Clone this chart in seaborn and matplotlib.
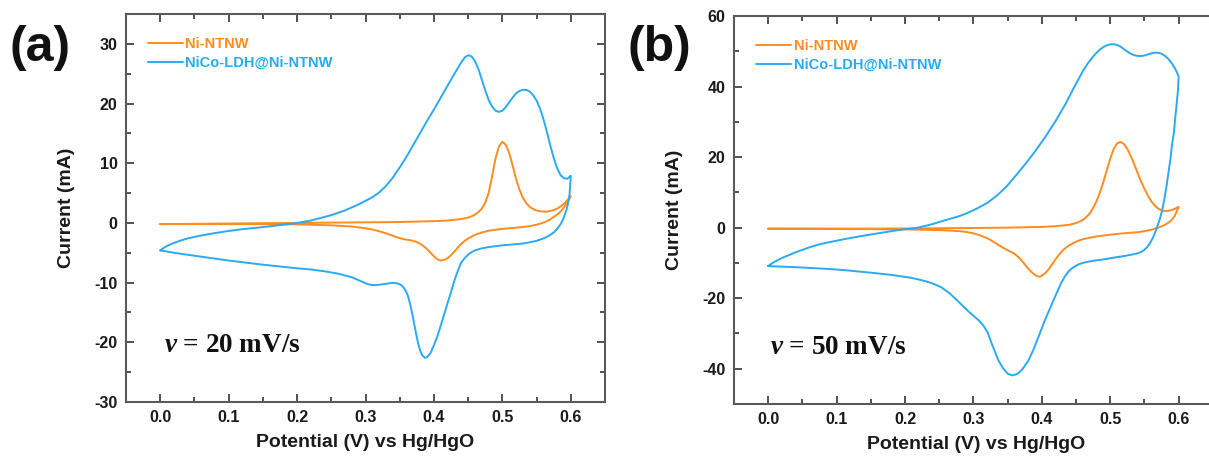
import matplotlib
matplotlib.use("Agg")
import matplotlib.pyplot as plt
import seaborn as sns
import pandas as pd
from matplotlib.ticker import MultipleLocator

# ---------------- data: panel (a), 20 mV/s ----------------
a_ni_fwd_v = [0.00, 0.05, 0.10, 0.15, 0.20, 0.25, 0.30, 0.35, 0.40, 0.42, 0.44, 0.45, 0.455, 0.46,
              0.465, 0.47, 0.475, 0.48, 0.485, 0.49, 0.495, 0.50, 0.505, 0.51, 0.515, 0.52, 0.525,
              0.53, 0.535, 0.54, 0.545, 0.55, 0.555, 0.56, 0.565, 0.57, 0.575, 0.58, 0.585, 0.59,
              0.595, 0.60]
a_ni_fwd_i = [-0.2, -0.15, -0.1, -0.05, 0.0, 0.05, 0.1, 0.15, 0.3, 0.4, 0.65, 0.9, 1.1, 1.4,
              1.8, 2.4, 3.4, 5.0, 7.8, 10.8, 12.8, 13.6, 13.1, 11.7, 9.6, 7.4, 5.6,
              4.2, 3.3, 2.7, 2.3, 2.1, 1.95, 1.9, 1.9, 2.0, 2.15, 2.4, 2.75, 3.2,
              3.8, 4.5]
a_ni_rev_v = [0.60, 0.595, 0.59, 0.585, 0.58, 0.575, 0.57, 0.565, 0.56, 0.55, 0.54, 0.52, 0.50,
              0.48, 0.47, 0.46, 0.455, 0.45, 0.445, 0.44, 0.435, 0.43, 0.425, 0.42, 0.415, 0.41,
              0.405, 0.40, 0.395, 0.39, 0.385, 0.38, 0.375, 0.37, 0.365, 0.36, 0.355, 0.35, 0.345,
              0.34, 0.33, 0.32, 0.31, 0.30, 0.29, 0.28, 0.25, 0.20, 0.15, 0.10, 0.05, 0.00]
a_ni_rev_i = [4.5, 3.4, 2.6, 1.9, 1.4, 1.0, 0.6, 0.3, 0.05, -0.3, -0.55, -0.8, -1.0,
              -1.3, -1.6, -2.0, -2.3, -2.6, -3.0, -3.5, -4.1, -4.8, -5.4, -5.9, -6.2, -6.3,
              -6.1, -5.6, -5.0, -4.4, -3.9, -3.5, -3.2, -3.0, -2.9, -2.8, -2.7, -2.55, -2.35,
              -2.15, -1.75, -1.4, -1.1, -0.9, -0.75, -0.6, -0.4, -0.25, -0.2, -0.2, -0.2, -0.2]

a_co_fwd_v = [0.00, 0.005, 0.01, 0.02, 0.03, 0.04, 0.06, 0.08, 0.10, 0.12, 0.15, 0.18, 0.20, 0.22,
              0.24, 0.25, 0.26, 0.27, 0.28, 0.29, 0.30, 0.31, 0.32, 0.33, 0.34, 0.35, 0.36, 0.37,
              0.38, 0.39, 0.40, 0.41, 0.42, 0.43, 0.44, 0.445, 0.45, 0.455, 0.46, 0.465, 0.47,
              0.475, 0.48, 0.485, 0.49, 0.495, 0.50, 0.505, 0.51, 0.515, 0.52, 0.525, 0.53, 0.535,
              0.54, 0.545, 0.55, 0.555, 0.56, 0.565, 0.57, 0.575, 0.58, 0.585, 0.59, 0.595, 0.60]
a_co_fwd_i = [-4.6, -4.2, -3.85, -3.35, -2.95, -2.6, -2.1, -1.7, -1.35, -1.05, -0.7, -0.3, 0.0, 0.4,
              1.0, 1.3, 1.7, 2.1, 2.6, 3.1, 3.7, 4.3, 5.1, 6.2, 7.6, 9.3, 11.1, 13.1,
              15.1, 17.1, 19.0, 21.0, 23.0, 25.0, 26.9, 27.7, 28.1, 27.9, 27.1, 25.8, 24.0,
              22.2, 20.6, 19.5, 18.8, 18.6, 18.8, 19.4, 20.2, 21.0, 21.7, 22.1, 22.3, 22.3,
              22.0, 21.4, 20.5, 19.2, 17.4, 15.3, 13.0, 10.9, 9.2, 8.0, 7.5, 7.4, 7.9]
a_co_rev_v = [0.60, 0.599, 0.598, 0.596, 0.594, 0.591, 0.588, 0.584, 0.58, 0.575, 0.57, 0.565, 0.56,
              0.55, 0.54, 0.53, 0.516, 0.50, 0.49, 0.48, 0.47, 0.46, 0.455, 0.45, 0.445, 0.44,
              0.435, 0.43, 0.425, 0.42, 0.415, 0.41, 0.405, 0.40, 0.395, 0.39, 0.387, 0.383, 0.38,
              0.377, 0.374, 0.371, 0.368, 0.365, 0.362, 0.358, 0.354, 0.35, 0.345, 0.34, 0.335,
              0.33, 0.32, 0.315, 0.31, 0.305, 0.30, 0.295, 0.29, 0.285, 0.28, 0.27, 0.26, 0.24,
              0.22, 0.20, 0.15, 0.10, 0.05, 0.02, 0.00]
a_co_rev_i = [7.9, 6.0, 4.6, 3.3, 2.3, 1.3, 0.4, -0.4, -1.0, -1.6, -2.0, -2.35, -2.6,
              -3.0, -3.25, -3.45, -3.6, -3.75, -3.9, -4.05, -4.25, -4.6, -4.9, -5.3, -5.9, -6.6,
              -8.0, -9.6, -11.6, -13.4, -15.3, -17.2, -19.0, -20.5, -21.8, -22.5, -22.6, -22.2, -21.4,
              -20.2, -18.6, -16.8, -15.0, -13.5, -12.2, -11.2, -10.6, -10.25, -10.1, -10.05, -10.1,
              -10.2, -10.35, -10.4, -10.4, -10.3, -10.1, -9.85, -9.6, -9.35, -9.1, -8.8, -8.5, -8.1,
              -7.8, -7.6, -7.0, -6.3, -5.5, -5.0, -4.6]

# ---------------- data: panel (b), 50 mV/s ----------------
b_ni_fwd_v = [0.00, 0.10, 0.20, 0.30, 0.35, 0.40, 0.42, 0.44, 0.45, 0.455, 0.46, 0.465, 0.47, 0.475,
              0.48, 0.485, 0.49, 0.495, 0.50, 0.505, 0.51, 0.515, 0.52, 0.525, 0.53, 0.535, 0.54,
              0.545, 0.55, 0.555, 0.56, 0.565, 0.57, 0.575, 0.58, 0.585, 0.59, 0.595, 0.60]
b_ni_fwd_i = [-0.3, -0.3, -0.25, -0.1, 0.0, 0.2, 0.4, 0.8, 1.3, 1.7, 2.2, 3.0, 4.0, 5.6,
              7.5, 10.0, 13.0, 16.3, 19.5, 22.3, 23.9, 24.3, 23.7, 22.3, 20.3, 18.0, 15.5,
              13.1, 11.0, 9.1, 7.5, 6.3, 5.4, 4.9, 4.7, 4.75, 5.0, 5.4, 5.9]
b_ni_rev_v = [0.60, 0.597, 0.594, 0.59, 0.585, 0.58, 0.575, 0.57, 0.565, 0.56, 0.55, 0.54, 0.52,
              0.50, 0.48, 0.47, 0.46, 0.455, 0.45, 0.445, 0.44, 0.435, 0.43, 0.425, 0.42, 0.415,
              0.41, 0.405, 0.40, 0.397, 0.393, 0.39, 0.385, 0.38, 0.375, 0.37, 0.365, 0.36, 0.355,
              0.35, 0.345, 0.34, 0.335, 0.33, 0.325, 0.32, 0.31, 0.30, 0.29, 0.28, 0.25, 0.20,
              0.10, 0.00]
b_ni_rev_i = [5.9, 4.5, 3.3, 2.2, 1.4, 0.8, 0.35, 0.0, -0.3, -0.6, -1.0, -1.3, -1.6,
              -2.0, -2.5, -2.85, -3.3, -3.6, -4.0, -4.5, -5.0, -5.7, -6.6, -7.7, -9.0, -10.4,
              -11.8, -12.9, -13.6, -13.9, -13.8, -13.4, -12.6, -11.6, -10.4, -9.2, -8.2, -7.4, -6.9,
              -6.4, -5.9, -5.3, -4.7, -4.1, -3.5, -3.0, -2.2, -1.6, -1.25, -1.0, -0.7, -0.5,
              -0.35, -0.3]

b_co_fwd_v = [0.00, 0.005, 0.01, 0.02, 0.03, 0.04, 0.05, 0.06, 0.07, 0.08, 0.095, 0.11, 0.13, 0.151,
              0.17, 0.19, 0.21, 0.219, 0.23, 0.24, 0.25, 0.264, 0.28, 0.293, 0.305, 0.321, 0.335,
              0.349, 0.363, 0.377, 0.39, 0.405, 0.42, 0.435, 0.445, 0.455, 0.46, 0.468, 0.475,
              0.48, 0.485, 0.49, 0.495, 0.50, 0.505, 0.51, 0.515, 0.52, 0.525, 0.53, 0.535, 0.54,
              0.545, 0.55, 0.555, 0.56, 0.565, 0.57, 0.575, 0.58, 0.585, 0.59, 0.595, 0.598, 0.60]
b_co_fwd_i = [-10.9, -10.2, -9.6, -8.6, -7.8, -7.0, -6.3, -5.6, -5.0, -4.5, -3.9, -3.3, -2.6, -1.9,
              -1.3, -0.7, -0.2, 0.0, 0.5, 1.0, 1.6, 2.4, 3.3, 4.3, 5.4, 7.1, 9.2,
              11.8, 15.0, 18.3, 21.6, 25.7, 30.2, 35.2, 39.0, 42.6, 44.4, 46.8, 48.5,
              49.6, 50.5, 51.2, 51.7, 51.95, 52.0, 51.8, 51.3, 50.6, 49.9, 49.3, 48.9, 48.7,
              48.65, 48.8, 49.1, 49.4, 49.6, 49.6, 49.3, 48.7, 47.8, 46.6, 45.0, 43.8, 42.8]
b_co_rev_v = [0.60, 0.599, 0.597, 0.595, 0.593, 0.59, 0.588, 0.585, 0.582, 0.579, 0.576, 0.573, 0.57,
              0.566, 0.562, 0.558, 0.554, 0.55, 0.545, 0.54, 0.53, 0.519, 0.505, 0.49, 0.475, 0.462,
              0.455, 0.45, 0.445, 0.44, 0.434, 0.428, 0.422, 0.414, 0.405, 0.397, 0.388, 0.38,
              0.371, 0.364, 0.357, 0.35, 0.343, 0.337, 0.332, 0.326, 0.321, 0.315, 0.309, 0.30,
              0.293, 0.285, 0.276, 0.265, 0.253, 0.24, 0.23, 0.22, 0.208, 0.18, 0.151, 0.12,
              0.095, 0.05, 0.00]
b_co_rev_i = [42.8, 39.0, 35.0, 31.0, 27.0, 23.0, 19.5, 15.5, 11.5, 8.0, 5.0, 2.8, 1.0,
              -1.2, -3.0, -4.4, -5.5, -6.3, -6.9, -7.3, -7.7, -8.1, -8.5, -9.0, -9.4, -9.9,
              -10.3, -10.8, -11.4, -12.2, -13.7, -15.8, -18.4, -22.0, -26.0, -30.0, -34.5, -37.8,
              -40.3, -41.5, -41.9, -41.4, -39.8, -37.8, -35.5, -32.5, -29.8, -27.9, -26.5, -25.0,
              -23.8, -22.3, -20.6, -18.6, -16.9, -15.8, -15.2, -14.7, -14.2, -13.4, -12.8, -12.2,
              -11.8, -11.3, -10.9]

series_labels = ["Ni-NTNW", "NiCo-LDH@Ni-NTNW"]
panel_labels = ["(a)", "(b)"]
rate_texts = ["20 mV/s", "50 mV/s"]
x_ticks = [0.0, 0.1, 0.2, 0.3, 0.4, 0.5, 0.6]
a_y_ticks = [-30, -20, -10, 0, 10, 20, 30]
b_y_ticks = [-40, -20, 0, 20, 40, 60]

ORANGE = "#FF8C1E"
BLUE = "#2AAAF2"

sns.set_style("ticks")
plt.rcParams["font.family"] = ["Liberation Sans", "DejaVu Sans"]
plt.rcParams["font.weight"] = "bold"
plt.rcParams["axes.labelweight"] = "bold"
plt.rcParams["mathtext.fontset"] = "custom"
plt.rcParams["mathtext.it"] = "Liberation Serif:italic:bold"
plt.rcParams["mathtext.rm"] = "Liberation Serif:bold"

fig = plt.figure(figsize=(12.09, 4.62), dpi=100)
ax_a = fig.add_axes([126 / 1209, 60 / 462, 479 / 1209, 388 / 462])
ax_b = fig.add_axes([734 / 1209, 58 / 462, 484 / 1209, 388 / 462])


def loop(fv, fi, rv, ri):
    return pd.DataFrame({"V": fv + rv, "I": fi + ri})


panels = [
    (ax_a, loop(a_ni_fwd_v, a_ni_fwd_i, a_ni_rev_v, a_ni_rev_i),
     loop(a_co_fwd_v, a_co_fwd_i, a_co_rev_v, a_co_rev_i), (-30, 35), a_y_ticks, 5, 0.08),
    (ax_b, loop(b_ni_fwd_v, b_ni_fwd_i, b_ni_rev_v, b_ni_rev_i),
     loop(b_co_fwd_v, b_co_fwd_i, b_co_rev_v, b_co_rev_i), (-50, 60), b_y_ticks, 10, 0.075),
]

for k, (ax, d_ni, d_co, ylim, yt, ymin, tx) in enumerate(panels):
    sns.lineplot(data=d_ni, x="V", y="I", sort=False, estimator=None, color=ORANGE,
                 lw=1.4, ax=ax, label=series_labels[0])
    sns.lineplot(data=d_co, x="V", y="I", sort=False, estimator=None, color=BLUE,
                 lw=1.4, ax=ax, label=series_labels[1])
    ax.set_xlim(-0.05, 0.65 if k == 0 else 0.6575)
    ax.set_ylim(*ylim)
    ax.set_xticks(x_ticks)
    ax.set_xticklabels([f"{t:.1f}" for t in x_ticks])
    ax.set_yticks(yt)
    ax.set_yticklabels([str(t) for t in yt])
    ax.xaxis.set_minor_locator(MultipleLocator(0.05))
    ax.yaxis.set_minor_locator(MultipleLocator(ymin))
    ax.tick_params(which="both", direction="in", top=True, right=(k == 0), colors="#333333",
                   labelcolor="#1a1a1a", labelsize=11.5, width=1.2)
    ax.tick_params(which="major", length=6, pad=6)
    ax.tick_params(which="minor", length=3.5)
    for name, sp in ax.spines.items():
        sp.set_visible(not (k == 1 and name == "right"))
        sp.set_color("#5a5a5a")
        sp.set_linewidth(1.5)
    for lab in ax.get_xticklabels() + ax.get_yticklabels():
        lab.set_fontweight("bold")
    ax.set_xlabel("Potential (V) vs Hg/HgO", fontsize=14, fontweight="bold", labelpad=6,
                  color="#1a1a1a")
    ax.set_ylabel("Current (mA)", fontsize=14, fontweight="bold", labelpad=14, color="#1a1a1a")
    ax.legend(loc="upper left", bbox_to_anchor=(0.045, 0.94), frameon=False,
              handlelength=2.4, handletextpad=0.2, labelspacing=0.3,
              borderpad=0, borderaxespad=0, labelcolor="linecolor",
              prop={"weight": "bold", "size": 10.5})
    ax.text(tx, 0.13, r"$v$ = " + rate_texts[k], transform=ax.transAxes,
            fontsize=19.5, fontfamily="Liberation Serif", fontweight="bold", va="baseline",
            ha="left", color="#111111")

fig.text(10 / 1209, 1 - 48 / 462, panel_labels[0], fontsize=36, fontweight="bold",
         va="center", ha="left", color="#111111")
fig.text(628 / 1209, 1 - 48 / 462, panel_labels[1], fontsize=36, fontweight="bold",
         va="center", ha="left", color="#111111")

fig.savefig("out.png", dpi=100)
